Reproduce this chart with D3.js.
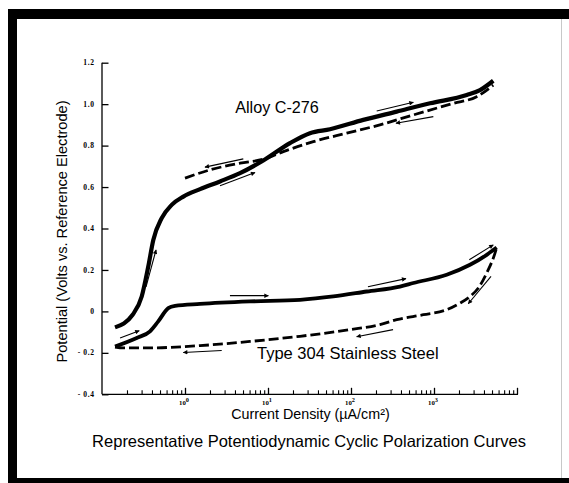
<!DOCTYPE html>
<html>
<head>
<meta charset="utf-8">
<script src="https://cdn.jsdelivr.net/npm/d3@7"></script>
<style>
  html, body { margin: 0; padding: 0; background: #fff; }
  svg { display: block; }
</style>
</head>
<body>
<script>
// ---- data (current density in µA/cm², potential in volts) ----
const alloyForwardI = [0.1435, 0.234, 0.301, 0.361, 0.415, 0.524, 0.691, 0.955, 1.52, 2.64, 4.6, 8.78, 18.4, 32, 55.9, 140.6, 355, 896, 2478, 3583, 5176];
const alloyForwardE = [-0.077, -0.016, 0.072, 0.217, 0.345, 0.45, 0.514, 0.554, 0.590, 0.627, 0.667, 0.728, 0.812, 0.860, 0.879, 0.924, 0.964, 1.004, 1.044, 1.068, 1.113];
const alloyReverseI = [1.0, 2.0, 4.6, 8.78, 15.3, 35.2, 88.7, 223, 564, 1709, 3266, 5176];
const alloyReverseE = [0.643, 0.683, 0.715, 0.734, 0.771, 0.819, 0.860, 0.900, 0.948, 1.004, 1.036, 1.092];
const ssForwardI = [0.1435, 0.262, 0.379, 0.476, 0.629, 0.759, 1.52, 6.07, 24.3, 61.3, 154.5, 389, 564, 1422, 2716, 4315, 5690];
const ssForwardE = [-0.169, -0.128, -0.096, -0.048, 0.016, 0.027, 0.036, 0.048, 0.056, 0.072, 0.096, 0.120, 0.137, 0.177, 0.225, 0.273, 0.308];
const ssReverseI = [0.1435, 0.181, 0.379, 1.52, 6.07, 24.3, 97.3, 223, 355, 743, 1422, 2056, 2716, 3420, 4315, 5430, 5690];
const ssReverseE = [-0.172, -0.176, -0.176, -0.165, -0.145, -0.120, -0.088, -0.064, -0.040, -0.016, 0.008, 0.040, 0.072, 0.113, 0.185, 0.281, 0.308];

// direction arrows: [I, E] start and end points
const arrowsStart = [[0.339, 0.118], [5.04, 0.736], [2.64, 0.606], [204, 0.967], [982, 0.940],
                     [0.165, -0.128], [2.77, -0.189], [3.48, 0.076], [160, 0.119], [2660, 0.249], [4864, 0.169], [321, -0.088]];
const arrowsEnd   = [[0.448, 0.297], [1.74, 0.696], [6.97, 0.670], [564, 1.009], [348, 0.908],
                     [0.281, -0.093], [0.954, -0.198], [10.1, 0.076], [460, 0.158], [5176, 0.321], [2588, 0.037], [117, -0.122]];

const yTickValues = [-0.4, -0.2, 0, 0.2, 0.4, 0.6, 0.8, 1.0, 1.2];
const yTickLabels = ["- 0.4", "- 0.2", "0", "0.2", "0.4", "0.6", "0.8", "1.0", "1.2"];
const xMajorValues = [1, 10, 100, 1000];
const xMajorExponents = ["0", "1", "2", "3"];

const seriesLabels = ["Alloy C-276", "Type 304 Stainless Steel"];
const xTitle = "Current Density (µA/cm²)";
const yTitle = "Potential (Volts vs. Reference Electrode)";
const chartTitle = "Representative Potentiodynamic Cyclic Polarization Curves";

// ---- layout ----
const W = 569, H = 483;
const svg = d3.select("body").append("svg").attr("width", W).attr("height", H);

// frame
svg.append("rect").attr("x", 8).attr("y", 9).attr("width", W - 8).attr("height", 10).attr("fill", "#000");
svg.append("rect").attr("x", 8).attr("y", 9).attr("width", 9).attr("height", H - 9).attr("fill", "#000");
svg.append("rect").attr("x", 8).attr("y", 478).attr("width", W - 8).attr("height", 5).attr("fill", "#000");
svg.append("line").attr("x1", 561.5).attr("x2", 561.5).attr("y1", 19).attr("y2", 478)
   .attr("stroke", "#c8c8c8").attr("stroke-width", 1);

const x = d3.scaleLog().domain([0.1, 10000]).range([102, 517]);
const y = d3.scaleLinear().domain([-0.4, 1.2]).range([394.3, 62.7]);

// axes
const tickFont = "'Liberation Serif', 'DejaVu Serif', serif";
const yAxis = d3.axisRight(y).tickValues(yTickValues).tickSize(6.5).tickFormat("");
const gy = svg.append("g").attr("transform", `translate(${x.range()[0]},0)`).call(yAxis);
gy.select(".domain").attr("stroke-width", 1.3).attr("d", `M0,${y(1.2)}V${y(-0.4)}`);
gy.selectAll(".tick line").attr("stroke-width", 1.3);

svg.append("g").selectAll("text").data(yTickValues).join("text")
  .attr("x", 94.5).attr("y", d => y(d)).attr("dy", "0.35em")
  .attr("text-anchor", "end")
  .attr("font-family", tickFont).attr("font-weight", "bold").attr("font-size", 7.5)
  .attr("letter-spacing", 0.6)
  .text((d, i) => yTickLabels[i]);

const minorValues = [];
for (let e = -1; e < 4; e++) for (let m = 2; m <= 9; m++) minorValues.push(m * Math.pow(10, e));
const xAxisMinor = d3.axisTop(x).tickValues(minorValues).tickSize(4).tickFormat("");
const xAxisMajor = d3.axisTop(x).tickValues(xMajorValues.concat([10000])).tickSize(6.5).tickFormat("");
const gxm = svg.append("g").attr("transform", `translate(0,${y.range()[0]})`).call(xAxisMinor);
gxm.select(".domain").attr("stroke-width", 1.3).attr("d", `M${x.range()[0]},0H${x.range()[1] + 1}`);
gxm.selectAll(".tick line").attr("stroke-width", 1.1);
const gxM = svg.append("g").attr("transform", `translate(0,${y.range()[0]})`).call(xAxisMajor);
gxM.select(".domain").remove();
gxM.selectAll(".tick line").attr("stroke-width", 1.3);

const xl = svg.append("g").selectAll("text").data(xMajorValues).join("text")
  .attr("x", d => x(d) - 1).attr("y", 404.5)
  .attr("text-anchor", "middle")
  .attr("font-family", tickFont).attr("font-weight", "bold").attr("font-size", 6.8);
xl.append("tspan").text("10");
xl.append("tspan").attr("dy", -2.8).attr("font-size", 6.3).text((d, i) => xMajorExponents[i]);

// titles
const sans = "'Liberation Sans', Arial, sans-serif";
svg.append("text").attr("x", 310.5).attr("y", 419).attr("text-anchor", "middle")
  .attr("font-family", sans).attr("font-size", 14.3).text(xTitle);
svg.append("text").attr("transform", "translate(66.5,231.5) rotate(-90)").attr("text-anchor", "middle")
  .attr("font-family", sans).attr("font-size", 14.6).text(yTitle);
svg.append("text").attr("x", 309).attr("y", 446.5).attr("text-anchor", "middle")
  .attr("font-family", sans).attr("font-size", 16.5).text(chartTitle);

svg.append("text").attr("x", 277).attr("y", 112.5).attr("text-anchor", "middle")
  .attr("font-family", sans).attr("font-size", 16.2).text(seriesLabels[0]);
svg.append("text").attr("x", 257).attr("y", 359).attr("text-anchor", "start")
  .attr("font-family", sans).attr("font-size", 16.5).text(seriesLabels[1]);

// curves
const line = d3.line().x(d => x(d[0])).y(d => y(d[1])).curve(d3.curveMonotoneX);
const zip = (a, b) => a.map((v, i) => [v, b[i]]);

svg.append("path").attr("d", line(zip(alloyReverseI, alloyReverseE)))
  .attr("fill", "none").attr("stroke", "#000").attr("stroke-width", 2.8).attr("stroke-dasharray", "10,4");
svg.append("path").attr("d", line(zip(alloyForwardI, alloyForwardE)))
  .attr("fill", "none").attr("stroke", "#000").attr("stroke-width", 4.2);
svg.append("path").attr("d", line(zip(ssReverseI, ssReverseE)))
  .attr("fill", "none").attr("stroke", "#000").attr("stroke-width", 2.8).attr("stroke-dasharray", "10,4");
svg.append("path").attr("d", line(zip(ssForwardI, ssForwardE)))
  .attr("fill", "none").attr("stroke", "#000").attr("stroke-width", 3.8);

// arrows
svg.append("defs").append("marker").attr("id", "ah")
  .attr("viewBox", "0 0 10 10").attr("refX", 9).attr("refY", 5)
  .attr("markerWidth", 6).attr("markerHeight", 4.5).attr("markerUnits", "userSpaceOnUse")
  .attr("orient", "auto")
  .append("path").attr("d", "M0,0L10,5L0,10Z").attr("fill", "#000");

svg.append("g").selectAll("line").data(arrowsStart).join("line")
  .attr("x1", d => x(d[0])).attr("y1", d => y(d[1]))
  .attr("x2", (d, i) => x(arrowsEnd[i][0])).attr("y2", (d, i) => y(arrowsEnd[i][1]))
  .attr("stroke", "#000").attr("stroke-width", 1.1).attr("marker-end", "url(#ah)");
</script>
</body>
</html>
